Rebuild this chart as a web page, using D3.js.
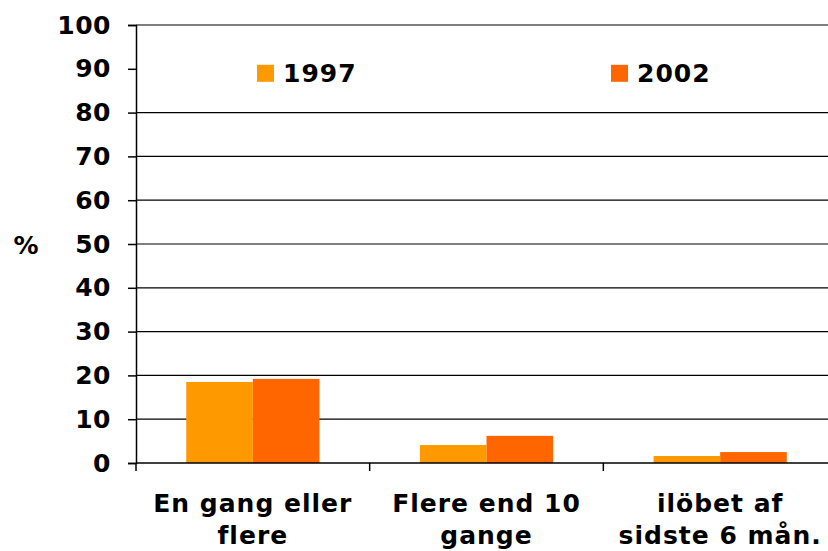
<!doctype html>
<html lang="da">
<head>
<meta charset="utf-8">
<script src="https://d3js.org/d3.v7.min.js"></script>
<style>
  body { margin: 0; background: #fff; }
  text { font-family: "DejaVu Sans", Verdana, sans-serif; font-weight: bold; fill: #000; }
  .grid line { stroke: #000; stroke-width: 1.2; }
</style>
</head>
<body>
<div id="chart"></div>
<script>
  // data
  let categories = [["En gang eller", "flere"], ["Flere end 10", "gange"], ["ilöbet af", "sidste 6 mån."]];
  let years = ["1997", "2002"];
  let values1997 = [18.5, 4.1, 1.6];
  let values2002 = [19.2, 6.2, 2.5];
  let yTicks = [0, 10, 20, 30, 40, 50, 60, 70, 80, 90, 100];
  let colors = ["#FF9900", "#FF6600"];

  let W = 828, H = 551;
  let margin = {top: 25, right: -9, bottom: 88, left: 136},
      width = W - margin.left - margin.right,
      height = H - margin.top - margin.bottom;

  let svg = d3.select("#chart").append("svg")
      .attr("width", W).attr("height", H);
  let g = svg.append("g")
      .attr("transform", "translate(" + margin.left + "," + margin.top + ")");

  let catIdx = categories.map((d, i) => i);
  let x0 = d3.scaleBand().domain(catIdx).range([0, width]).paddingInner(0.43).paddingOuter(0.215);
  let x1 = d3.scaleBand().domain(years).range([0, x0.bandwidth()]);
  let y = d3.scaleLinear().domain([0, 100]).range([height, 0]);

  // gridlines
  g.append("g").attr("class", "grid")
    .selectAll("line").data(yTicks.filter(d => d > 0)).enter().append("line")
    .attr("x1", 0).attr("x2", width)
    .attr("y1", d => y(d)).attr("y2", d => y(d))
    .attr("stroke", d => d === 100 ? "#777" : "#000");

  // legend background covers the 90 gridline
  g.append("rect").attr("x", 1).attr("y", y(94)).attr("width", width).attr("height", y(86) - y(94))
    .attr("fill", "#fff");

  // bars
  let series = [values1997, values2002];
  let groups = g.selectAll(".cat").data(catIdx).enter().append("g")
    .attr("transform", d => "translate(" + x0(d) + ",0)");
  groups.selectAll("rect").data(i => years.map((yr, k) => ({yr: yr, k: k, v: series[k][i]})))
    .enter().append("rect")
    .attr("x", d => x1(d.yr)).attr("width", x1.bandwidth())
    .attr("y", d => y(d.v)).attr("height", d => height - y(d.v))
    .attr("fill", d => colors[d.k]);

  // y axis
  let yAxis = g.append("g").call(d3.axisLeft(y).tickValues(yTicks).tickSize(8).tickPadding(17));
  yAxis.select(".domain").attr("stroke", "#000").attr("stroke-width", 1.5);
  yAxis.selectAll(".tick line").attr("stroke", "#000").attr("stroke-width", 1.5);
  yAxis.selectAll("text").style("font-size", "25px").style("letter-spacing", "0.5px").attr("fill", "#000");

  // x axis with ticks at category boundaries
  let step = x0.step();
  let bounds = [0, 1, 2, 3].map(i => i * step);
  let xAxisG = g.append("g").attr("transform", "translate(0," + height + ")");
  xAxisG.append("line").attr("x1", 0).attr("x2", width).attr("stroke", "#000").attr("stroke-width", 1.5);
  xAxisG.selectAll(".bt").data(bounds).enter().append("line")
    .attr("x1", d => d).attr("x2", d => d).attr("y1", 0).attr("y2", 8)
    .attr("stroke", "#000").attr("stroke-width", 1.5);
  let labels = xAxisG.selectAll(".lab").data(catIdx).enter().append("text")
    .attr("text-anchor", "middle")
    .attr("transform", d => "translate(" + (x0(d) + x0.bandwidth() / 2) + ",0)")
    .style("font-size", "25px").style("letter-spacing", "1px");
  labels.selectAll("tspan").data(d => categories[d]).enter().append("tspan")
    .attr("x", 0).attr("y", (d, i) => 49 + i * 32).text(d => d);

  // y label
  svg.append("text").attr("x", 26).attr("y", 254).attr("text-anchor", "middle")
    .style("font-size", "25px").text("%");

  // legend
  let legX = [121, 475];
  let leg = g.selectAll(".leg").data(years).enter().append("g")
    .attr("transform", (d, i) => "translate(" + legX[i] + "," + y(90) + ")");
  leg.append("rect").attr("x", 0).attr("y", -4).attr("width", 17).attr("height", 17)
    .attr("fill", (d, i) => colors[i]);
  leg.append("text").attr("x", 26).attr("y", 13).style("font-size", "25px")
    .style("letter-spacing", "1px").text(d => d);
</script>
</body>
</html>
